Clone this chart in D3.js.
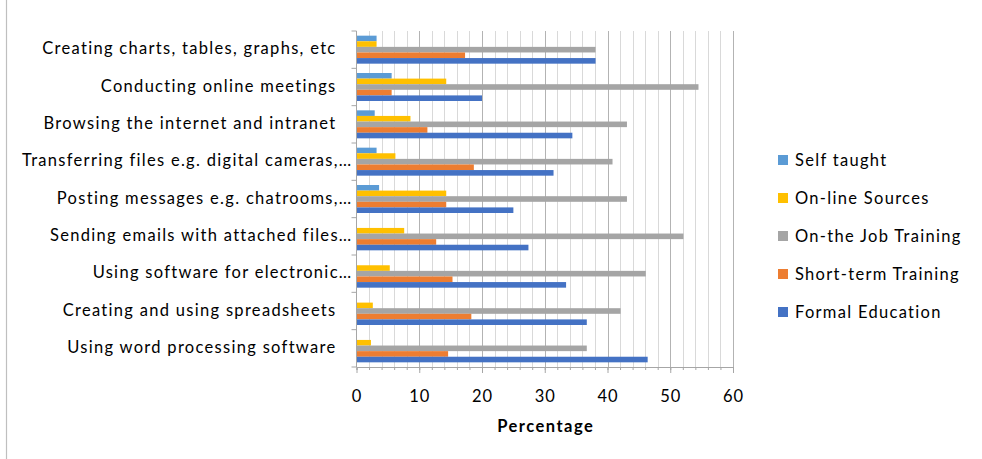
<!DOCTYPE html>
<html>
<head>
<meta charset="utf-8">
<script src="https://cdn.jsdelivr.net/npm/d3@7"></script>
<style>
  html, body { margin: 0; padding: 0; background: #fff; }
  svg { display: block; }
  text { font-family: Lato, "Open Sans", sans-serif; fill: #000; }
</style>
</head>
<body>
<svg id="chart" width="982" height="459"></svg>
<script>
// Activities, listed top to bottom
const categories = [
  "Creating charts, tables, graphs, etc",
  "Conducting online meetings",
  "Browsing the internet and intranet",
  "Transferring files e.g. digital cameras,…",
  "Posting messages e.g. chatrooms,…",
  "Sending emails with attached files…",
  "Using software for electronic…",
  "Creating and using spreadsheets",
  "Using word processing software"
];

// Series, drawn top to bottom inside each group
const seriesNames = ["Self taught", "On-line Sources", "On-the Job Training", "Short-term Training", "Formal Education"];
const seriesColors = ["#5B9BD5", "#FFC000", "#A5A5A5", "#ED7D31", "#4472C4"];

// Percentages per series, same order as categories
const selfTaught        = [3.2, 5.6, 2.9, 3.2, 3.6, 0, 0, 0, 0];
const onlineSources     = [3.2, 14.3, 8.6, 6.2, 14.3, 7.6, 5.3, 2.6, 2.3];
const onTheJobTraining  = [38.1, 54.5, 43.1, 40.8, 43.1, 52.1, 46.1, 42.1, 36.7];
const shortTermTraining = [17.3, 5.6, 11.3, 18.7, 14.3, 12.7, 15.3, 18.3, 14.6];
const formalEducation   = [38.1, 20.0, 34.4, 31.4, 25.0, 27.4, 33.4, 36.7, 46.4];

const xTicks = [0, 10, 20, 30, 40, 50, 60];
const xTitle = "Percentage";

const seriesValues = [selfTaught, onlineSources, onTheJobTraining, shortTermTraining, formalEducation];

const svg = d3.select("#chart");
const labelFont = { size: 16.5, spacing: 1.3 };

const plot = { left: 356.5, right: 733, top: 31, bottom: 367 };

const x = d3.scaleLinear().domain([0, 60]).range([plot.left, plot.right]);
const y = d3.scaleBand().domain(categories).range([plot.top, plot.bottom])
  .paddingInner(0.25).paddingOuter(0.125);
const ySub = d3.scaleBand().domain(seriesNames).range([0, y.bandwidth()]);

// chart frame (left edge)
svg.append("line")
  .attr("x1", 6.5).attr("x2", 6.5).attr("y1", 0).attr("y2", 459)
  .attr("stroke", "#bfbfbf").attr("stroke-width", 1.2);

// gridlines: minor every 2, major every 10
const minorVals = d3.range(2, 61, 2).filter(v => v % 10 !== 0);
svg.append("g").selectAll("line").data(minorVals).join("line")
  .attr("x1", d => Math.round(x(d)) + 0.5).attr("x2", d => Math.round(x(d)) + 0.5)
  .attr("y1", plot.top).attr("y2", plot.bottom)
  .attr("stroke", "#d9d9d9").attr("stroke-width", 1);
svg.append("g").selectAll("line").data(xTicks.filter(v => v > 0)).join("line")
  .attr("x1", d => Math.round(x(d)) + 0.5).attr("x2", d => Math.round(x(d)) + 0.5)
  .attr("y1", plot.top).attr("y2", plot.bottom)
  .attr("stroke", "#b3b3b3").attr("stroke-width", 1);

// bars
const groups = svg.append("g").selectAll("g").data(categories).join("g")
  .attr("transform", d => `translate(0,${y(d)})`);
groups.selectAll("rect")
  .data((c, i) => seriesNames.map((s, j) => ({ s, v: seriesValues[j][i], color: seriesColors[j] })))
  .join("rect")
  .attr("x", x(0))
  .attr("y", d => ySub(d.s))
  .attr("height", ySub.bandwidth())
  .attr("width", d => x(d.v) - x(0))
  .attr("fill", d => d.color);

// x axis: minor ticks every 2, longer major ticks with labels
const axisY = plot.bottom;
const xAxisMinor = d3.axisBottom(x).tickValues(d3.range(0, 61, 2)).tickSize(3).tickFormat("");
const gMinor = svg.append("g").attr("transform", `translate(0,${axisY})`).call(xAxisMinor);
gMinor.select(".domain").attr("stroke", "#a6a6a6");
gMinor.selectAll(".tick line").attr("stroke", "#a6a6a6");

const xAxis = d3.axisBottom(x).tickValues(xTicks).tickSize(6).tickPadding(17).tickFormat(d3.format("d"));
const gx = svg.append("g").attr("transform", `translate(0,${axisY})`).call(xAxis);
gx.select(".domain").remove();
gx.selectAll(".tick line").attr("stroke", "#a6a6a6");
gx.selectAll(".tick text")
  .attr("font-family", "Lato, sans-serif").attr("font-size", labelFont.size)
  .attr("letter-spacing", 1).attr("fill", "#000");

svg.append("text")
  .attr("x", (plot.left + plot.right) / 2 + 1).attr("y", 432)
  .attr("text-anchor", "middle")
  .attr("font-size", labelFont.size).attr("font-weight", "bold")
  .attr("letter-spacing", 1.5)
  .text(xTitle);

// y axis: line with ticks at group boundaries
const yAxisLine = svg.append("g");
yAxisLine.append("line")
  .attr("x1", plot.left).attr("x2", plot.left)
  .attr("y1", plot.top).attr("y2", plot.bottom)
  .attr("stroke", "#a6a6a6");
const step = y.step();
yAxisLine.selectAll("line.tk").data(d3.range(categories.length + 1)).join("line")
  .attr("class", "tk")
  .attr("x1", plot.left - 5).attr("x2", plot.left)
  .attr("y1", i => plot.top + i * step).attr("y2", i => plot.top + i * step)
  .attr("stroke", "#a6a6a6");

// category labels
svg.append("g").selectAll("text").data(categories).join("text")
  .attr("x", d => d.endsWith("…") ? plot.left - 4 : plot.left - 20)
  .attr("y", d => y(d) + y.bandwidth() / 2 - 1)
  .attr("dy", "0.35em")
  .attr("text-anchor", "end")
  .attr("font-size", labelFont.size)
  .attr("letter-spacing", labelFont.spacing)
  .text(d => d);

// legend
const legend = svg.append("g").selectAll("g").data(seriesNames).join("g")
  .attr("transform", (d, i) => `translate(778,${160 + i * 38})`);
legend.append("rect")
  .attr("x", 0).attr("y", -5).attr("width", 10).attr("height", 10)
  .attr("fill", (d, i) => seriesColors[i]);
legend.append("text")
  .attr("x", 17).attr("y", 0).attr("dy", "0.35em")
  .attr("font-size", labelFont.size)
  .attr("letter-spacing", labelFont.spacing)
  .text(d => d);
</script>
</body>
</html>
